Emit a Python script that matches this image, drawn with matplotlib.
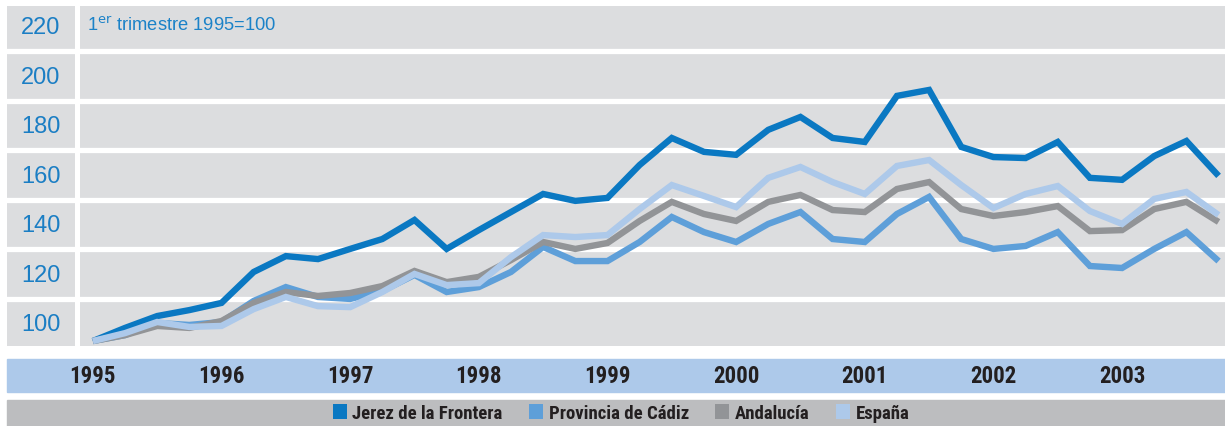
import matplotlib
matplotlib.use("Agg")
import matplotlib.pyplot as plt
from matplotlib import font_manager
from matplotlib.patches import Rectangle, Patch

# quarterly index, 1st quarter 1995 = 100
years = ["1995", "1996", "1997", "1998", "1999", "2000", "2001", "2002", "2003"]

jerez = [100, 105.3, 110.1, 112.5, 115.4, 127.9, 134.3, 133.1,
         137.2, 141.2, 148.9, 137.2, 144.8, 152.1, 159.4, 156.6,
         157.8, 171.1, 182.0, 176.4, 175.2, 185.3, 190.5, 182.0,
         180.4, 199.0, 201.4, 178.4, 174.3, 173.9, 180.4, 165.9,
         165.1, 174.7, 180.8, 166.7]
cadiz = [100, 102.4, 107.3, 106.5, 107.7, 116.2, 121.8, 117.8,
         117.0, 120.2, 126.7, 119.8, 121.8, 127.9, 138.0, 132.3,
         132.3, 140.0, 150.1, 144.0, 140.0, 147.3, 152.1, 141.2,
         140.0, 151.3, 158.2, 141.2, 137.2, 138.4, 144.0, 130.3,
         129.5, 137.2, 144.0, 132.3]
andalucia = [100, 102.4, 106.1, 105.3, 108.1, 115.4, 119.8, 118.2,
             119.4, 122.2, 128.3, 123.8, 125.9, 132.7, 140.0, 137.2,
             139.6, 148.5, 156.2, 151.3, 148.5, 156.2, 159.0, 152.9,
             152.1, 161.4, 164.2, 153.3, 150.5, 152.1, 154.5, 144.4,
             144.8, 153.3, 156.2, 148.1]
espana = [100, 103.2, 107.7, 105.7, 106.1, 112.9, 117.8, 114.1,
          113.7, 119.8, 127.1, 122.6, 123.4, 133.9, 142.8, 142.0,
          142.8, 153.3, 163.0, 158.6, 154.1, 165.9, 170.3, 164.2,
          159.4, 170.7, 173.1, 163.0, 153.7, 159.4, 162.6, 152.5,
          147.3, 157.4, 160.2, 150.9]

series = [jerez, cadiz, andalucia, espana]
names = ["Jerez de la Frontera", "Provincia de Cádiz", "Andalucía", "España"]
colors = ["#0a78c2", "#5e9fd9", "#929497", "#adc9ea"]

ytick_labels = [100, 120, 140, 160, 180, 200, 220]
grid_vals = [v + 17 for v in ytick_labels[:-1]]
label_vals = [v + 6.8 for v in ytick_labels]

# a narrow bold face for years and legend, if one is around
avail = {(f.name, f.stretch) for f in font_manager.fontManager.ttflist}
avail_names = {n for n, _ in avail}
narrow = {"family": ["Liberation Sans", "DejaVu Sans"], "stretch": "normal", "scale": 0.88}
for cand in ["Liberation Sans Narrow", "Roboto Condensed", "Open Sans Condensed"]:
    if cand in avail_names:
        narrow = {"family": [cand, "DejaVu Sans"], "stretch": "normal", "scale": 1.0}
        break
else:
    if ("DejaVu Sans", "condensed") in avail or ("DejaVu Sans", "semi-condensed") in avail:
        narrow = {"family": ["DejaVu Sans"], "stretch": "condensed", "scale": 0.86}

W, H = 1225, 427
fig = plt.figure(figsize=(12.25, 4.27), dpi=100)
fig.patch.set_facecolor("white")

def box(x0, y0, x1, y1):
    return [x0 / W, 1 - y1 / H, (x1 - x0) / W, (y1 - y0) / H]

gray = "#dcdddf"
ylim = (98.0, 235.3)

# bands under the plot
fig.patches.append(Rectangle((7 / W, 1 - 393 / H), (W - 7) / W, 33 / H,
                             transform=fig.transFigure, color="#adc9ea", zorder=-2))
fig.patches.append(Rectangle((7 / W, 0), (W - 7) / W, 26.5 / H,
                             transform=fig.transFigure, color="#bcbdbf", zorder=-2))

ax = fig.add_axes(box(80, 7, 1225, 347))
ax.set_facecolor(gray)
for i, s in enumerate(series):
    ax.plot(range(len(s)), s, color=colors[i], lw=4.6,
            solid_joinstyle="miter", solid_capstyle="butt", zorder=3)
for g in grid_vals:
    ax.axhline(g, color="white", lw=3.8, zorder=1)
ax.set_xlim(-0.40, 35.2)
ax.set_ylim(*ylim)
ax.set_xticks([])
ax.set_yticks([])
for sp in ax.spines.values():
    sp.set_visible(False)

ax.text(7 / 1145, 0.972, r"1$^{\mathrm{er}}$ trimestre 1995=100",
        transform=ax.transAxes, ha="left", va="top", fontsize=13.2,
        color="#1b82c8", family=["Liberation Sans", "DejaVu Sans"])

# year labels in the blue band
for k, yr in enumerate(years):
    ax.text(k * 4, -(376.5 - 347) / 340, yr, transform=ax.get_xaxis_transform(),
            ha="center", va="center", fontsize=16.5 * narrow["scale"],
            fontweight="bold", fontstretch=narrow["stretch"],
            color="#231f20", family=narrow["family"], clip_on=False)

# left label column
lab = fig.add_axes(box(7, 7, 75, 347))
lab.set_facecolor(gray)
lab.set_ylim(*ylim)
lab.set_xlim(0, 1)
for g in grid_vals:
    lab.axhline(g, color="white", lw=3.8)
for v, p in zip(ytick_labels, label_vals):
    lab.text(0.5, p, str(v), ha="center", va="center", fontsize=17,
             color="#1b7ec4", family=["Liberation Sans", "DejaVu Sans"])
lab.set_xticks([])
lab.set_yticks([])
for sp in lab.spines.values():
    sp.set_visible(False)

handles = [Patch(facecolor=c, edgecolor="none") for c in colors]
leg = fig.legend(handles, names, loc="center", bbox_to_anchor=(621 / W, 13 / H),
                 ncol=4, frameon=False, handlelength=0.75, handleheight=0.9,
                 handletextpad=0.3, columnspacing=1.4, borderpad=0,
                 prop={"family": narrow["family"], "weight": "bold",
                       "stretch": narrow["stretch"], "size": 13.5 * narrow["scale"]})
for t in leg.get_texts():
    t.set_color("#231f20")

fig.savefig("out.png", dpi=100, facecolor="white")
